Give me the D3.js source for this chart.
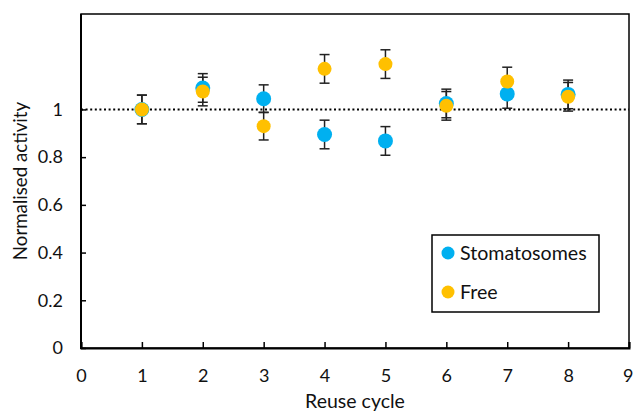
<!DOCTYPE html>
<html>
<head>
<meta charset="utf-8">
<script src="https://cdn.jsdelivr.net/npm/d3@7"></script>
<style>
  html, body { margin: 0; padding: 0; background: #fff; }
  svg { display: block; font-family: Lato, "Open Sans", sans-serif; }
</style>
</head>
<body>
<div id="chart"></div>
<script>
'use strict';

// Valores
var cycles = [1, 2, 3, 4, 5, 6, 7, 8];
var stomatosomes = [1.0, 1.09, 1.045, 0.895, 0.868, 1.025, 1.065, 1.063];
var stomatosomesErr = [0.06, 0.06, 0.058, 0.06, 0.06, 0.06, 0.06, 0.06];
var free = [1.0, 1.075, 0.93, 1.17, 1.19, 1.015, 1.117, 1.053];
var freeErr = [0.06, 0.06, 0.058, 0.06, 0.06, 0.06, 0.06, 0.06];
var xTicks = [0, 1, 2, 3, 4, 5, 6, 7, 8, 9];
var yTicks = [0, 0.2, 0.4, 0.6, 0.8, 1];
var legendNames = ['Stomatosomes', 'Free'];

var width = 633, height = 412;
var margin = {top: 14, right: 4, bottom: 64, left: 81};

var svg = d3.select('#chart').append('svg')
  .attr('width', width)
  .attr('height', height);

var x = d3.scaleLinear().domain([0, 9]).range([margin.left, width - margin.right]);
var y = d3.scaleLinear().domain([0, 1.4]).range([height - margin.bottom, margin.top]);

var series = [
  {name: legendNames[0], values: stomatosomes, err: stomatosomesErr, color: '#00B0F0', r: 7.5},
  {name: legendNames[1], values: free, err: freeErr, color: '#FFC000', r: 7}
];

// Marco del area de trazado
svg.append('rect')
  .attr('x', x(0))
  .attr('y', y(1.4))
  .attr('width', x(9) - x(0))
  .attr('height', y(0) - y(1.4))
  .attr('fill', 'none')
  .attr('stroke', '#000')
  .attr('stroke-width', 1.5);

// Eje x con marcas hacia adentro
var xAxis = svg.append('g')
  .attr('transform', 'translate(0,' + y(0) + ')')
  .call(d3.axisBottom(x).tickValues(xTicks).tickSize(-6).tickPadding(21).tickFormat(d3.format('d')));
xAxis.select('.domain').attr('stroke', '#000').attr('stroke-width', 2);
xAxis.selectAll('.tick line').attr('stroke', '#000').attr('stroke-width', 1.5);
xAxis.selectAll('.tick text').attr('font-size', 18).attr('fill', '#111').attr('font-family', 'Lato, sans-serif');
// la ultima etiqueta queda pegada al borde derecho
xAxis.selectAll('.tick text')
  .filter(function(d) { return d === 9; })
  .attr('text-anchor', 'end')
  .attr('x', width - x(9));

// Eje y
var yAxis = svg.append('g')
  .attr('transform', 'translate(' + x(0) + ',0)')
  .call(d3.axisLeft(y).tickValues(yTicks).tickSize(-5).tickPadding(18).tickFormat(function(d) { return d3.format('~g')(d); }));
yAxis.select('.domain').attr('stroke', 'none');
yAxis.selectAll('.tick line').attr('stroke', '#000').attr('stroke-width', 1.5);
yAxis.selectAll('.tick text').attr('font-size', 18).attr('fill', '#111').attr('font-family', 'Lato, sans-serif');
svg.append('line')
  .attr('x1', x(0)).attr('x2', x(0))
  .attr('y1', y(0) + 1).attr('y2', y(1.4))
  .attr('stroke', '#000')
  .attr('stroke-width', 2);

// Linea de referencia en 1
svg.append('line')
  .attr('x1', x(0))
  .attr('x2', x(9))
  .attr('y1', y(1))
  .attr('y2', y(1))
  .attr('stroke', '#000')
  .attr('stroke-width', 2)
  .attr('stroke-dasharray', '2,2.6');

// Barras de error (debajo de los marcadores)
series.forEach(function(s) {
  var g = svg.append('g').attr('stroke', '#222').attr('stroke-width', 1.5);
  cycles.forEach(function(c, i) {
    var cx = x(c);
    var top = y(s.values[i] + s.err[i]);
    var bot = y(s.values[i] - s.err[i]);
    g.append('line').attr('x1', cx).attr('x2', cx).attr('y1', top).attr('y2', bot);
    g.append('line').attr('x1', cx - 5).attr('x2', cx + 5).attr('y1', top).attr('y2', top);
    g.append('line').attr('x1', cx - 5).attr('x2', cx + 5).attr('y1', bot).attr('y2', bot);
  });
});

// Marcadores
series.forEach(function(s) {
  svg.append('g').selectAll('circle')
    .data(cycles)
    .enter().append('circle')
    .attr('cx', function(c) { return x(c); })
    .attr('cy', function(c, i) { return y(s.values[i]); })
    .attr('r', s.r)
    .attr('fill', s.color);
});

// Titulos de ejes
svg.append('text')
  .attr('x', (x(0) + x(9)) / 2)
  .attr('y', 408)
  .attr('text-anchor', 'middle')
  .attr('font-size', 19.5)
  .attr('fill', '#111')
  .text('Reuse cycle');

svg.append('text')
  .attr('transform', 'translate(27,' + ((y(0) + y(1.4)) / 2) + ')rotate(-90)')
  .attr('text-anchor', 'middle')
  .attr('font-size', 18.7)
  .attr('fill', '#111')
  .text('Normalised activity');

// Leyenda
var lg = svg.append('g').attr('transform', 'translate(432,235)');
lg.append('rect')
  .attr('width', 167)
  .attr('height', 77)
  .attr('fill', '#fff')
  .attr('stroke', '#000')
  .attr('stroke-width', 1.5);
series.forEach(function(s, i) {
  lg.append('circle')
    .attr('cx', 16)
    .attr('cy', 18 + i * 39)
    .attr('r', 6.5)
    .attr('fill', s.color);
  lg.append('text')
    .attr('x', 28)
    .attr('y', 18 + i * 39)
    .attr('dy', '0.35em')
    .attr('font-size', 19.6)
    .attr('fill', '#111')
    .text(s.name);
});
</script>
</body>
</html>
